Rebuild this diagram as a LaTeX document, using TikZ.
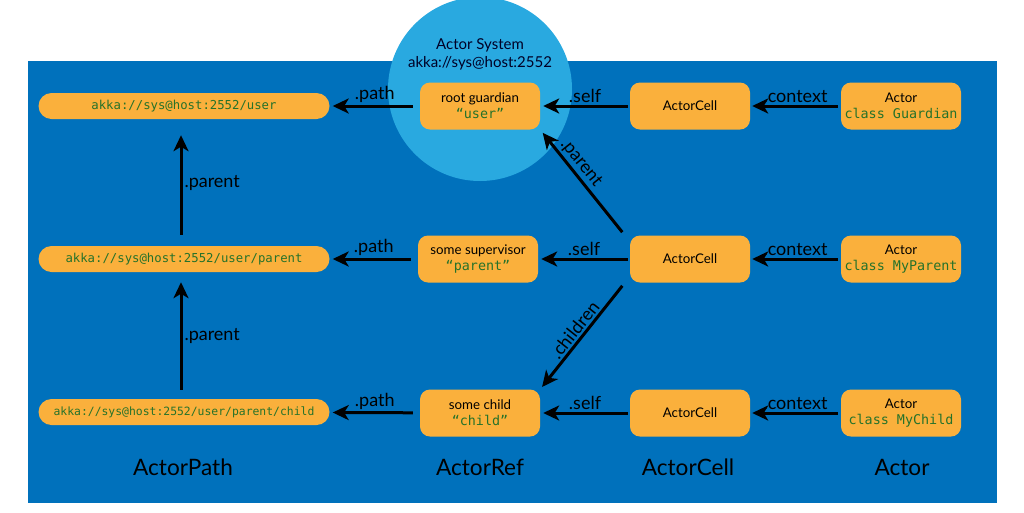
\documentclass[tikz,border=0pt]{standalone}
\usepackage{fontspec}
\setmainfont{Lato}
\setmonofont{DejaVu Sans Mono}
\usetikzlibrary{arrows.meta}
\definecolor{bgblue}{HTML}{0071BC}
\definecolor{sysblue}{HTML}{29A9E0}
\definecolor{boxorange}{HTML}{FAB03C}
\definecolor{codegreen}{HTML}{26722A}
\newcommand{\code}[1]{{\fontsize{13.4}{16}\selectfont\ttfamily\color{codegreen}#1}}

\begin{document}
\begin{tikzpicture}[x=1pt,y=-1pt,
    refbox/.style={fill=boxorange,rounded corners=10pt,minimum width=120pt,minimum height=47pt,align=center,inner sep=2pt,font=\fontsize{13.3}{16}\selectfont},
    pathbox/.style={fill=boxorange,rounded corners=13pt,minimum width=291pt,minimum height=26pt,inner sep=2pt,text=codegreen,font=\fontsize{12.3}{14}\selectfont\ttfamily},
    link/.style={line width=3pt,-{Stealth[length=16pt,width=15pt,inset=4.5pt]}},
    lbl/.style={font=\fontsize{18}{20}\selectfont,inner sep=2pt},
    collabel/.style={font=\fontsize{22.6}{26}\selectfont}]
    \useasboundingbox (0,0) rectangle (1024,512);
    \fill[bgblue] (28,61) rectangle (997,503);
    \node[circle,fill=sysblue,minimum size=184pt,inner sep=0pt] (sys) at (480,89) {};
    \node[align=center,font=\fontsize{15}{18}\selectfont,text=black!85!blue] (systext) at (480,54) {Actor System\\akka://sys@host:2552};

    \node[pathbox] (path1) at (184,106) {akka://sys@host:2552/user};
    \node[pathbox] (path2) at (184,259) {akka://sys@host:2552/user/parent};
    \node[pathbox,font=\fontsize{11.4}{14}\selectfont\ttfamily] (path3) at (184,412) {akka://sys@host:2552/user/parent/child};

    \node[refbox] (ref1) at (480,106) {root guardian\\\code{“user”}};
    \node[refbox] (ref2) at (478,259) {some supervisor\\\code{“parent”}};
    \node[refbox] (ref3) at (480,413) {some child\\\code{“child”}};

    \node[refbox] (cell1) at (690,106) {ActorCell};
    \node[refbox] (cell2) at (690,259) {ActorCell};
    \node[refbox] (cell3) at (690,413) {ActorCell};

    \node[refbox] (actor1) at (901,106) {Actor\\\code{class Guardian}};
    \node[refbox] (actor2) at (901,259) {Actor\\\code{class MyParent}};
    \node[refbox] (actor3) at (901,413) {Actor\\\code{class MyChild}};

    \foreach \i in {1,2,3} {
        \draw[link,shorten <=7pt,shorten >=3pt] (ref\i) -- node[lbl,above] {.path} (path\i);
        \draw[link,shorten <=2pt,shorten >=3pt] (cell\i) -- node[lbl,above] {.self} (ref\i);
        \draw[link,shorten <=3pt,shorten >=2pt] (actor\i) -- node[lbl,above] {.context} (cell\i);
    }
    \draw[link,shorten <=11pt,shorten >=16pt] ([xshift=-3pt]path2.north) -- node[lbl,right] {.parent} ([xshift=-3pt]path1.south);
    \draw[link,shorten <=9pt,shorten >=10pt] ([xshift=-3pt]path3.north) -- node[lbl,right] {.parent} ([xshift=-3pt]path2.south);
    \draw[link,shorten <=4pt,shorten >=4pt] ([xshift=-5pt]cell2.north west) -- node[lbl,sloped,above,pos=0.62] {.parent} (ref1.south east);
    \draw[link,shorten <=4pt,shorten >=3pt] ([xshift=-5pt]cell2.south west) -- node[lbl,sloped,above,pos=0.5] {.children} (ref3.north east);

    \node[collabel] (colpath) at (183,467) {ActorPath};
    \node[collabel] (colref) at (480,467) {ActorRef};
    \node[collabel] (colcell) at (688,467) {ActorCell};
    \node[collabel] (colactor) at (902,467) {Actor};
\end{tikzpicture}
\end{document}
